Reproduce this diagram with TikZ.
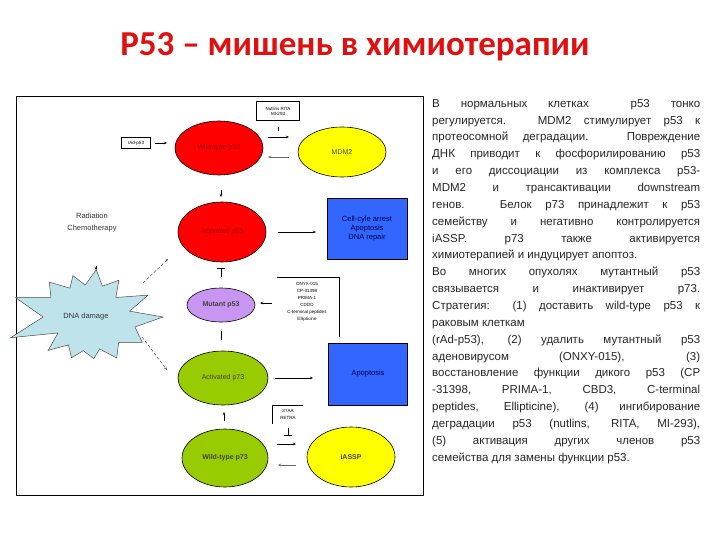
\documentclass[tikz,border=0pt]{standalone}
\usepackage{fontspec}
\setmainfont{Liberation Sans}
\newfontfamily\titlefont{Carlito}
\usetikzlibrary{arrows.meta,shapes.geometric}
\definecolor{tred}{HTML}{E01010}
\definecolor{ered}{HTML}{FF0000}
\definecolor{eyel}{HTML}{FFFF00}
\definecolor{epur}{HTML}{C896F0}
\definecolor{egrn}{HTML}{99CC00}
\definecolor{bbox}{HTML}{3366FF}
\definecolor{sky}{HTML}{BFE3EA}
\begin{document}
\begin{tikzpicture}[x=1pt,y=-1pt,
  ell/.style={draw=black,line width=0.6pt,ellipse,minimum width=88pt,inner sep=0pt,font=\fontsize{7}{8}\selectfont},
  bluebox/.style={draw=black,line width=0.8pt,fill=bbox,inner sep=0pt,font=\fontsize{7.5}{9}\selectfont,text=black!70!blue,align=center},
  lbl/.style={draw=black,line width=0.8pt,fill=white,inner sep=1pt,font=\fontsize{4.5}{5}\selectfont,align=center},
  arr/.style={-{Stealth[length=3pt,width=2.5pt]},line width=0.5pt},
  inh/.style={-{Bar[width=8pt]},line width=0.7pt}]
\useasboundingbox (0,0) rectangle (720,540);
\node[font=\titlefont\bfseries\fontsize{35}{38}\selectfont,text=tred] (title) at (355,47) {P53 – мишень в химиотерапии};
\node[draw=black,line width=1.4pt,minimum width=407pt,minimum height=399pt,anchor=north west,inner sep=0pt] (frame) at (16,96) {};
% starburst
\fill[sky,draw=black!70,line width=0.5pt,shift={(88,317)}]
  (0:75) -- (12:48) -- (25:60) -- (40:40) -- (55:50) -- (70:34) -- (82:42) -- (98:34) -- (112:44) -- (125:34)
  -- (140:52) -- (152:34) -- (165:80) -- (180:45) -- (195:75) -- (208:42) -- (222:52) -- (238:34)
  -- (250:44) -- (265:32) -- (280:48) -- (295:34) -- (310:48) -- (325:34) -- (340:64) -- (352:42) -- cycle;
\node[font=\fontsize{7.5}{9}\selectfont,text=black!80] (dna) at (86,317) {DNA damage};
\node[font=\fontsize{7.5}{12}\selectfont,align=center,text=black!80] (rad) at (92,223) {Radiation\\Chemotherapy};
\coordinate (r1) at (96,266); \coordinate (r2) at (96,270);
\draw[arr] (r1) -- (r2);
% ellipses
\node[ell,fill=ered,minimum height=54pt,text=red!60!black] (wp53) at (219,148) {Wild-type p53};
\node[ell,fill=eyel,minimum height=50pt,text=black!70] (mdm2) at (342,152) {MDM2};
\node[ell,fill=ered,minimum height=60pt,text=red!60!black] (ap53) at (222,232) {Activated p53};
\node[ell,fill=epur,minimum width=68pt,minimum height=34pt,font=\bfseries\fontsize{7}{8}\selectfont,text=black!75] (mp53) at (221,305) {Mutant p53};
\node[ell,fill=egrn,minimum width=90pt,minimum height=54pt,text=black!75] (ap73) at (223,378) {Activated p73};
\node[ell,fill=egrn,minimum width=86pt,minimum height=58pt,font=\bfseries\fontsize{7}{8}\selectfont,text=black!75] (wp73) at (225,458) {Wild-type p73};
\node[ell,fill=eyel,minimum width=88pt,minimum height=60pt,font=\bfseries\fontsize{7}{8}\selectfont,text=black!75] (iassp) at (351,457) {iASSP};
% boxes
\node[bluebox,minimum width=80pt,minimum height=61pt] (cca) at (367,229) {Cell-cyle arrest\\Apoptosis\\DNA repair};
\node[bluebox,minimum width=79pt,minimum height=62pt] (apo) at (368,374) {Apoptosis};
\node[lbl,minimum width=43pt,minimum height=19pt] (nut) at (278,111) {Nutlins RITA\\MI-293};
\node[lbl,minimum width=29pt,minimum height=11pt] (rad53) at (136,143) {rAd-p53};
% ONYX bracket
\node[font=\fontsize{4.5}{7}\selectfont,align=center,inner sep=0pt] (onyx) at (307,302) {ONYX-015\\CP-31398\\PRIMA-1\\CDDO\\C-terminal peptides\\Ellipticine};
\coordinate (o1) at (277,277); \coordinate (o2) at (339,277); \coordinate (o3) at (339,337);
\draw[line width=0.8pt] (o1) -- (o2) -- (o3);
\coordinate (oa) at (272,303); \coordinate (ob) at (260,303);
\draw[arr] (oa) -- (ob);
% 37AA RETRA bracket
\node[font=\fontsize{4.5}{7}\selectfont,align=center,inner sep=0pt] (retra) at (288,414) {37AA\\RETRA};
\coordinate (e1) at (303,405); \coordinate (e2) at (272,405); \coordinate (e3) at (272,424);
\draw[line width=0.6pt] (e1) -- (e2) -- (e3);
\coordinate (ri1) at (288,428); \coordinate (ri2) at (288,436);
\draw[inh] (ri1) -- (ri2);
% nutlins inhibitor
\coordinate (n1) at (278,127); \coordinate (n2) at (278,131);
\draw[line width=0.6pt] (n1) -- (n2);
% arrows
\coordinate (m1) at (268,137); \coordinate (m2) at (289,137);
\draw[arr] (m1) -- (m2);
\coordinate (m3) at (289,157); \coordinate (m4) at (268,157);
\draw[arr,black!60] (m3) -- (m4);
\coordinate (ra) at (155,143); \coordinate (rb) at (167,143);
\draw[arr] (ra) -- (rb);
\coordinate (d1) at (221,190); \coordinate (d2) at (221,197);
\draw[arr] (d1) -- (d2);
\coordinate (c1) at (278,232); \coordinate (c2) at (316,232);
\draw[arr] (c1) -- (c2);
\coordinate (t1) at (221,277); \coordinate (t2) at (221,268);
\draw[inh] (t1) -- (t2);
\coordinate (u1) at (221,331); \coordinate (u2) at (221,340);
\draw[line width=0.6pt] (u1) -- (u2);
\coordinate (p1) at (275,378); \coordinate (p2) at (313,378);
\draw[arr] (p1) -- (p2);
\coordinate (w1) at (224,421); \coordinate (w2) at (224,412);
\draw[arr] (w1) -- (w2);
\coordinate (i1) at (277,444); \coordinate (i2) at (296,444);
\draw[arr] (i1) -- (i2);
\coordinate (i3) at (296,465); \coordinate (i4) at (278,465);
\draw[arr,black!60] (i3) -- (i4);
\coordinate (s1) at (143,283); \coordinate (s2) at (168,259);
\draw[arr,densely dashed,black!70] (s1) -- (s2);
\coordinate (s3) at (142,337); \coordinate (s4) at (167,370);
\draw[arr,densely dashed,black!70] (s3) -- (s4);
% right text
\node[anchor=north west,inner sep=0pt,text width=268pt,align=justify,font=\fontsize{11.5}{16.86}\selectfont,text=black!85] (txt) at (432,99) {%
\hbadness=10000\hfuzz=20pt\pretolerance=-1\tolerance=10000\hyphenpenalty=10000\emergencystretch=20pt
В нормальных клетках\ \ p53 тонко\linebreak
регулируется. MDM2 стимулирует p53 к\linebreak
протеосомной деградации. Повреждение\linebreak
ДНК приводит к фосфорилированию p53\linebreak
и его диссоциации из комплекса p53-\linebreak
MDM2 и трансактивации downstream\linebreak
генов. Белок p73 принадлежит к p53\linebreak
семейству и негативно контролируется\linebreak
iASSP. p73 также активируется\linebreak
химиотерапией и индуцирует апоптоз.\par
Во многих опухолях мутантный p53\linebreak
связывается и инактивирует p73.\linebreak
Стратегия: (1) доставить wild-type p53 к\linebreak
раковым клеткам\par
(rAd-p53), (2) удалить мутантный p53\linebreak
аденовирусом (ONXY-015), (3)\linebreak
восстановление функции дикого p53 (CP\linebreak
-31398, PRIMA-1, CBD3, C-terminal\linebreak
peptides, Ellipticine), (4) ингибирование\linebreak
деградации p53 (nutlins, RITA, MI-293),\linebreak
(5) активация других членов p53\linebreak
семейства для замены функции p53.};
\end{tikzpicture}
\end{document}
